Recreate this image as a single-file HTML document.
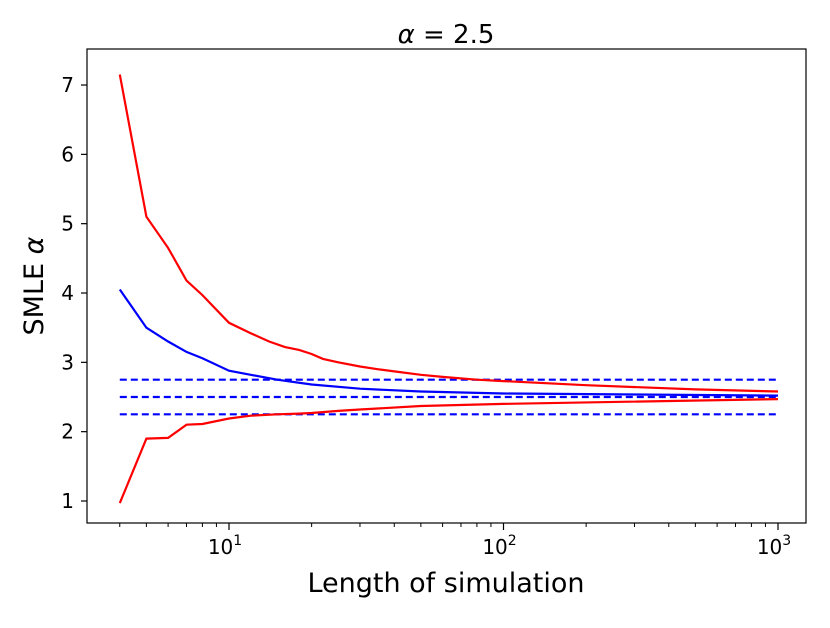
<!DOCTYPE html>
<html><head><meta charset="utf-8"><style>
body{margin:0;background:#fff;}
svg text{font-family:"DejaVu Sans","Liberation Sans",sans-serif;fill:#000;}
</style></head><body>
<svg width="830" height="623" viewBox="0 0 830 623" id="chart">
<rect x="0" y="0" width="830" height="623" fill="#fff"/>
<g id="grid"></g>
<g id="series"></g>
<rect x="87" y="49" width="719" height="474" fill="none" stroke="#000" stroke-width="1.2"/>
<g id="axes"></g>
<text x="446" y="43" font-size="26" text-anchor="middle"><tspan font-style="italic">α</tspan> = 2.5</text>
<text x="446" y="592" font-size="27" text-anchor="middle">Length of simulation</text>
<text transform="translate(43,286) rotate(-90)" font-size="27" text-anchor="middle">SMLE <tspan font-style="italic">α</tspan></text>
</svg>
<script>
const nUpper=[4,5,6,7,8,10,12,14,16,18,20,22,25,30,35,40,50,60,80,100,200,500,1000];
const redUpper=[7.15,5.1,4.65,4.18,3.97,3.57,3.42,3.3,3.22,3.18,3.12,3.05,3.0,2.94,2.9,2.87,2.82,2.79,2.75,2.73,2.67,2.61,2.58];
const nMid=[4,5,6,7,8,10,12,15,20,30,50,100,1000];
const blueMid=[4.05,3.5,3.3,3.15,3.06,2.88,2.82,2.75,2.68,2.62,2.58,2.55,2.52];
const nLower=[4,5,6,7,8,10,12,15,18,20,25,30,50,100,1000];
const redLower=[0.97,1.9,1.91,2.1,2.11,2.19,2.23,2.25,2.26,2.27,2.3,2.32,2.37,2.4,2.47];
const refLevels=[2.75,2.5,2.25];
const yTicks=[1,2,3,4,5,6,7];
const xMajor=[10,100,1000];
const xMajorLabels=["1","2","3"];
const ns="http://www.w3.org/2000/svg";
function xs(v){return 229+(Math.log10(v)-1)*274.5;}
function ys(v){return 501-(v-1)*69.33;}
function el(t,a,p){const e=document.createElementNS(ns,t);for(const k in a)e.setAttribute(k,a[k]);p.appendChild(e);return e;}
const S=document.getElementById('series'),A=document.getElementById('axes');
function line(xv,yv,color,dash,name){
 const d=xv.map((x,i)=>(i?'L':'M')+xs(x).toFixed(1)+','+ys(yv[i]).toFixed(1)).join(' ');
 const p=el('path',{d:d,fill:'none',stroke:color,'stroke-width':2.2},S);
 if(dash)p.setAttribute('stroke-dasharray','7,4');
 
 
}
refLevels.forEach((v,i)=>line([4,1000],[v,v],'#0000ff',true,'reference-line-'+i));
line(nMid,blueMid,'#0000ff',false,'blue-mean-line');
line(nUpper,redUpper,'#ff0000',false,'red-upper-line');
line(nLower,redLower,'#ff0000',false,'red-lower-line');
yTicks.forEach(v=>{
 const y=ys(v);
 el('line',{x1:81,x2:87,y1:y,y2:y,stroke:'#000','stroke-width':1.2},A);
 const t=el('text',{x:74,y:y+7,'font-size':20,'text-anchor':'end'},A);
 t.textContent=v;
 
 
});
xMajor.forEach((v,i)=>{
 const x=xs(v);
 el('line',{x1:x,x2:x,y1:523,y2:530,stroke:'#000','stroke-width':1.2},A);
 const t=el('text',{x:x-4,y:554,'font-size':20,'text-anchor':'middle'},A);
 t.innerHTML='10<tspan dy="-9" font-size="14">'+xMajorLabels[i]+'</tspan>';
 
 
});
[4,5,6,7,8,9,20,30,40,50,60,70,80,90,200,300,400,500,600,700,800,900].forEach(v=>{
 const x=xs(v);
 el('line',{x1:x,x2:x,y1:523,y2:527,stroke:'#000','stroke-width':1},A);
});
</script>
</body></html>
